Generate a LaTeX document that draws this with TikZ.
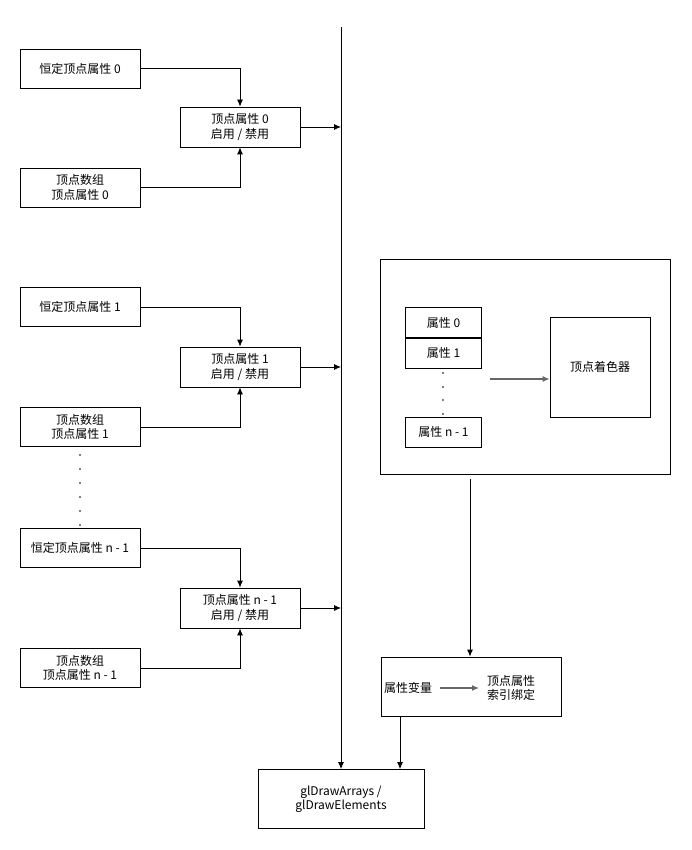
\documentclass[tikz,border=0pt]{standalone}
\usepackage{fontspec}
\setmainfont{Noto Sans CJK SC}
\usetikzlibrary{arrows.meta}
\begin{document}
\begin{tikzpicture}
		[x=1pt,y=-1pt,>={Latex[length=7pt,width=6pt]},font=\fontsize{12}{14.5}\selectfont,
		box/.style={draw,thick,align=center,inner sep=0pt},
		slot/.style={box,minimum width=120,minimum height=39},
		attr/.style={box,minimum width=76,minimum height=30},
		dot/.style={fill=black,inner sep=0pt,minimum size=1.6pt}]
		\useasboundingbox (0,0) rectangle (691,850);
		% attribute 0
		\node[slot,name=c0]at(80,68.5){恒定顶点属性 0};
		\node[slot,name=e0,minimum height=40]at(240,127){顶点属性 0\\启用 / 禁用};
		\node[slot,name=a0]at(80,187.5){顶点数组\\顶点属性 0};
		% attribute 1
		\node[slot,name=c1]at(80,307){恒定顶点属性 1};
		\node[slot,name=e1,minimum height=40]at(240,367){顶点属性 1\\启用 / 禁用};
		\node[slot,name=a1]at(80,427){顶点数组\\顶点属性 1};
		% attribute n-1
		\node[slot,name=c2]at(80,548){恒定顶点属性 n - 1};
		\node[slot,name=e2,minimum height=40]at(240,608){顶点属性 n - 1\\启用 / 禁用};
		\node[slot,name=a2]at(80,668){顶点数组\\顶点属性 n - 1};
		\foreach \y in {455,469,483,497,511,525}
			\node[dot,gray]at(80,\y){};
		% shader
		\node[box,name=prog,minimum width=290,minimum height=215]at(525,367){};
		\node[attr,name=p0]at(443.5,322.5){属性 0};
		\node[attr,name=p1]at(443.5,353){属性 1};
		\node[attr,name=pn]at(443.5,432){属性 n - 1};
		\foreach \y in {373,387,400,414}
			\node[dot,gray]at(443,\y){};
		\node[box,name=vs,minimum width=100,minimum height=100]at(600,367){顶点着色器};
		\coordinate(sa)at(490,379);
		\draw[->,very thick,black!60] (sa) -- (sa -| vs.west);
		% binding
		\node[box,name=bind,minimum width=180,minimum height=59]at(471,686.5){};
		\node[name=var,inner sep=0pt]at(408,688){属性变量};
		\node[name=idx,inner sep=0pt,align=left]at(511,688){顶点属性\\索引绑定};
		\draw[->,very thick,black!60] (440,688) -- (479,688);
		\coordinate(pb)at(470,479);
		\draw[->,thick] (pb) -- (pb |- bind.north);
		% draw call
		\node[box,name=gl,minimum width=166,minimum height=59]at(341,799){glDrawArrays /\\glDrawElements};
		\coordinate(top)at(341,27);
		\draw[->,thick] (top) -- (gl.north);
		\draw[->,thick] (bind.south -| 400,0) -- (gl.north -| 400,0);
		% connectors
		\foreach \i in {0,1,2}{
			\draw[->,thick] (c\i.east) -| (e\i.north);
			\draw[->,thick] (a\i.east) -| (e\i.south);
			\draw[->,thick] (e\i.east) -- (e\i.east -| top);
		}
	\end{tikzpicture}
\end{document}
